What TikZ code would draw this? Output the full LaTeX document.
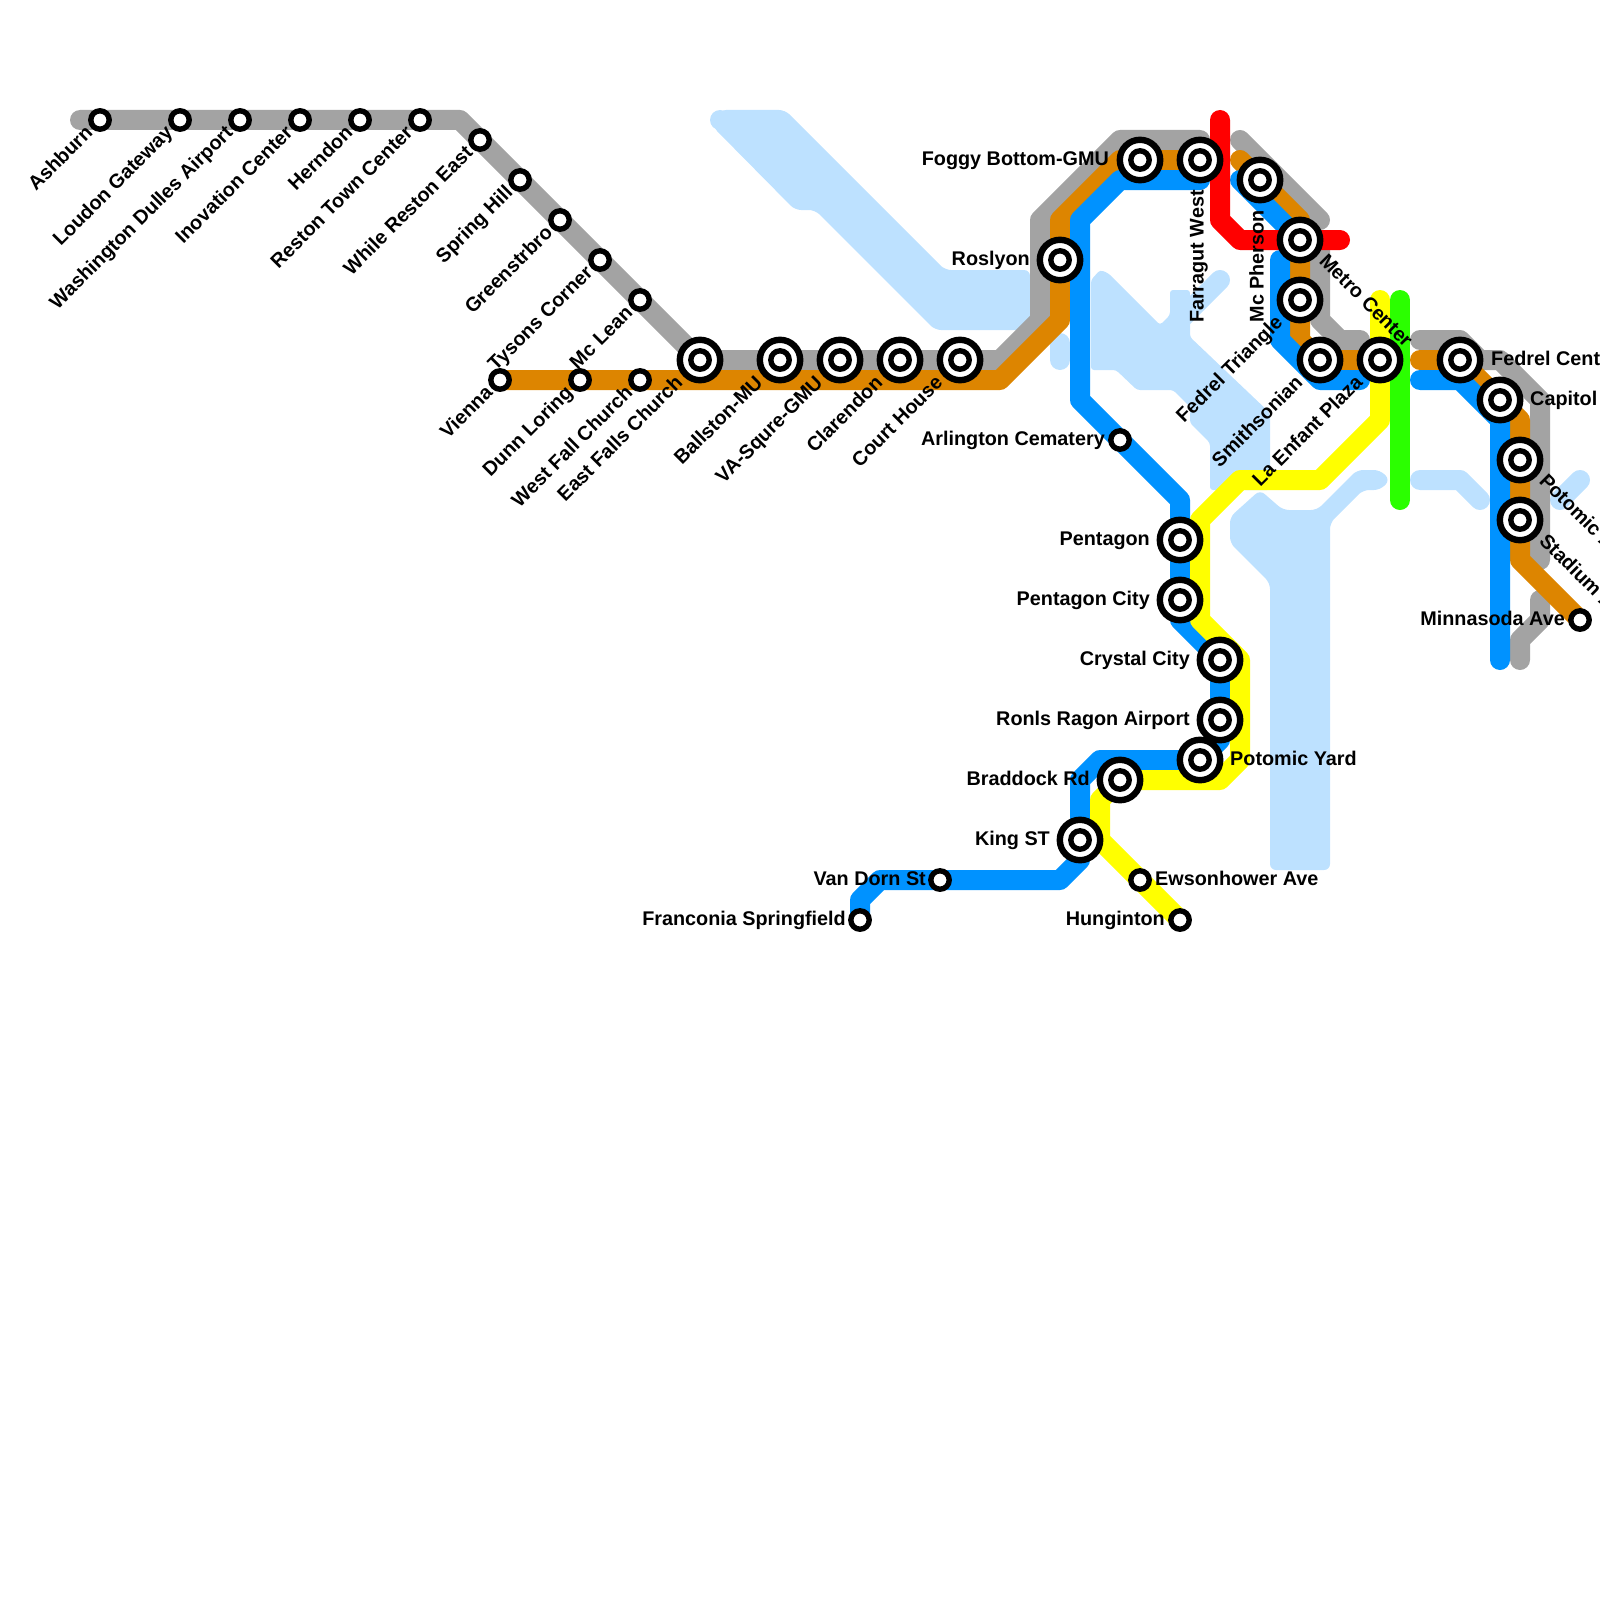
\documentclass[tikz,border=0pt]{standalone}
\usepackage{fontspec}
\setmainfont{Liberation Sans}
\pgfdeclarelayer{bg}
\pgfsetlayers{bg,main}
\definecolor{water}{HTML}{BDE1FF}
\definecolor{mgray}{HTML}{A3A3A3}
\definecolor{morange}{HTML}{DD8500}
\definecolor{mblue}{HTML}{0092FF}
\definecolor{mred}{HTML}{FF0000}
\definecolor{myellow}{HTML}{FFFF00}
\definecolor{mgreen}{HTML}{2BFF00}
\tikzset{
  x=1pt,y=-1pt,
  metro/.style={line width=20pt,line cap=round,line join=round},
  wline/.style={metro,draw=water},
  wfill/.style={fill=water,rounded corners=6pt},
  stn/.style={circle,draw=black,fill=white,line width=5.4pt,minimum size=18.4pt,inner sep=0pt,outer sep=0pt},
  ich/.style={circle,draw=black,fill=white,line width=6.4pt,minimum size=40.4pt,inner sep=0pt,outer sep=0pt},
  lab/.style={font=\fontsize{19.8}{20}\selectfont\bfseries,inner sep=0pt,text=black,text height=14pt,text depth=3pt},
  lw/.style={lab,anchor=east,xshift=1pt,yshift=-2pt},
  le/.style={lab,anchor=west,xshift=-1pt,yshift=-2pt},
  ld/.style={lab,anchor=east,rotate=45},
  lds/.style={lab,anchor=east,xshift=2pt,yshift=2pt,rotate=45},
  lu/.style={lab,anchor=west,yshift=2pt,rotate=-45},
  lv/.style={lab,anchor=east,rotate=90},
}
\begin{document}
\begin{tikzpicture}
\path[use as bounding box] (0,0) rectangle (1600,1600);
\clip (0,0) rectangle (1600,1600);
% stations
\node[stn] (ashburn) at (100,120) {};
\node[stn] (loudon) at (180,120) {};
\node[stn] (dulles) at (240,120) {};
\node[stn] (inov) at (300,120) {};
\node[stn] (herndon) at (360,120) {};
\node[stn] (reston) at (420,120) {};
\node[stn] (while) at (480,140) {};
\node[stn] (spring) at (520,180) {};
\node[stn] (green) at (560,220) {};
\node[stn] (tysons) at (600,260) {};
\node[stn] (mclean) at (640,300) {};
\node[stn] (vienna) at (500,380) {};
\node[stn] (dunn) at (580,380) {};
\node[stn] (westfall) at (640,380) {};
\node[ich] (eastfalls) at (700,360) {};
\node[ich] (ballston) at (780,360) {};
\node[ich] (vasq) at (840,360) {};
\node[ich] (clarendon) at (900,360) {};
\node[ich] (court) at (960,360) {};
\node[ich] (roslyn) at (1060,260) {};
\node[ich] (foggy) at (1140,160) {};
\node[ich] (farragut) at (1200,160) {};
\node[ich] (mcpherson) at (1260,180) {};
\node[ich] (metro) at (1300,240) {};
\node[ich] (triangle) at (1300,300) {};
\node[ich] (smith) at (1320,360) {};
\node[ich] (lenfant) at (1380,360) {};
\node[ich] (fedcent) at (1460,360) {};
\node[ich] (capitol) at (1500,400) {};
\node[ich] (potave) at (1520,460) {};
\node[ich] (stadium) at (1520,520) {};
\node[stn] (minn) at (1580,620) {};
\node[stn] (arl) at (1120,440) {};
\node[ich] (pent) at (1180,540) {};
\node[ich] (pentc) at (1180,600) {};
\node[ich] (crystal) at (1220,660) {};
\node[ich] (ragon) at (1220,720) {};
\node[ich] (potyard) at (1200,760) {};
\node[ich] (braddock) at (1120,780) {};
\node[ich] (king) at (1080,840) {};
\node[stn] (vandorn) at (940,880) {};
\node[stn] (franc) at (860,920) {};
\node[stn] (ewson) at (1140,880) {};
\node[stn] (hung) at (1180,920) {};
\foreach \n in {eastfalls,ballston,vasq,clarendon,court,roslyn,foggy,farragut,mcpherson,metro,triangle,smith,lenfant,fedcent,capitol,potave,stadium,pent,pentc,crystal,ragon,potyard,braddock,king}
  \node[stn] (\n-ring) at (\n) {};
% free ends and bends
\coordinate (g0) at (80,120);
\coordinate (g1) at (460,120);
\coordinate (g2) at (1000,360);
\coordinate (g3) at (1040,320);
\coordinate (g4) at (1040,220);
\coordinate (g5) at (1120,140);
\coordinate (g6) at (1200,140);
\coordinate (g7) at (1240,140);
\coordinate (g8) at (1320,220);
\coordinate (g9) at (1320,250);
\coordinate (g10) at (1320,320);
\coordinate (g11) at (1340,340);
\coordinate (g12) at (1360,340);
\coordinate (g13) at (1420,340);
\coordinate (g14) at (1460,340);
\coordinate (g15) at (1480,360);
\coordinate (g16) at (1500,360);
\coordinate (g17) at (1540,400);
\coordinate (g18) at (1540,560);
\coordinate (g19) at (1540,600);
\coordinate (g20) at (1540,620);
\coordinate (g21) at (1520,640);
\coordinate (g22) at (1520,660);
\coordinate (o1) at (1000,380);
\coordinate (o2) at (1060,320);
\coordinate (o3) at (1060,220);
\coordinate (o4) at (1120,160);
\coordinate (o5) at (1240,160);
\coordinate (o6) at (1300,220);
\coordinate (o7) at (1300,340);
\coordinate (o8) at (1420,360);
\coordinate (o9) at (1520,420);
\coordinate (o10) at (1520,560);
\coordinate (b1) at (1200,180);
\coordinate (b2) at (1120,180);
\coordinate (b3) at (1080,220);
\coordinate (b4) at (1080,400);
\coordinate (b5) at (1180,500);
\coordinate (b6) at (1180,620);
\coordinate (b7) at (1220,740);
\coordinate (b8) at (1100,760);
\coordinate (b9) at (1080,780);
\coordinate (b10) at (1080,860);
\coordinate (b11) at (1060,880);
\coordinate (b12) at (880,880);
\coordinate (b13) at (860,900);
\coordinate (b14) at (1240,180);
\coordinate (b15) at (1280,260);
\coordinate (b16) at (1280,340);
\coordinate (b17) at (1320,380);
\coordinate (b18) at (1360,380);
\coordinate (b19) at (1420,380);
\coordinate (b20) at (1460,380);
\coordinate (b21) at (1500,420);
\coordinate (b22) at (1500,660);
\coordinate (r1) at (1220,120);
\coordinate (r2) at (1220,220);
\coordinate (r3) at (1240,240);
\coordinate (r4) at (1340,240);
\coordinate (y1) at (1380,300);
\coordinate (y2) at (1380,420);
\coordinate (y3) at (1320,480);
\coordinate (y4) at (1240,480);
\coordinate (y5) at (1200,520);
\coordinate (y6) at (1200,620);
\coordinate (y7) at (1240,660);
\coordinate (y8) at (1240,760);
\coordinate (y9) at (1220,780);
\coordinate (y10) at (1100,800);
\coordinate (y11) at (1100,840);
\coordinate (n1) at (1400,300);
\coordinate (n2) at (1400,500);
\begin{pgfonlayer}{bg}
% water
\fill[wfill] (720,110) -- (785,110) -- (945,270) -- (1030,270) -- (1030,330) -- (935,330) -- (815,210) -- (795,210) -- (713,127) -- cycle;
\fill[water] (720,120) circle (10pt);
\draw[wline] (1060,343) -- (1060,360);
\fill[wfill,rounded corners=3pt] (1091,280) -- (1100,270) -- (1108,273) -- (1160,325) -- (1170,315) -- (1170,290) -- (1190,290) -- (1190,337) -- (1270,413) -- (1270,490) -- (1210,490) -- (1210,443) -- (1190,423) -- (1190,407) -- (1173,390) -- (1137,390) -- (1116,370) -- (1091,370) -- cycle;
\draw[wline] (1220,280) -- (1180,320);
\fill[wfill] (1230,517) -- (1260,490) -- (1283,510) -- (1317,510) -- (1357,470) -- (1380,470) -- (1390,480) -- (1380,490) -- (1363,490) -- (1330,523) -- (1330,870) -- (1270,870) -- (1270,583) -- (1230,543) -- cycle;
\draw[wline] (1420,480) -- (1460,480) -- (1480,500);
\draw[wline] (1580,480) -- (1560,500);
% lines
\draw[metro,mgray] (g0) -- (g1) -- (eastfalls.center) -- (g2) -- (g3) -- (g4) -- (g5) -- (g6);
\draw[metro,mgray] (g7) -- (g8);
\draw[metro,mgray] (g9) -- (g10) -- (g11) -- (g12);
\draw[metro,mgray] (g13) -- (g14) -- (g15) -- (g16) -- (g17) -- (g18);
\draw[metro,mgray] (g19) -- (g20) -- (g21) -- (g22);
\draw[metro,morange] (vienna.center) -- (o1) -- (o2) -- (o3) -- (o4) -- (farragut.center);
\draw[metro,morange] (o5) -- (o6) -- (o7) -- (smith.center) -- (lenfant.center);
\draw[metro,morange] (o8) -- (fedcent.center) -- (o9) -- (o10) -- (minn.center);
\draw[metro,mblue] (b1) -- (b2) -- (b3) -- (b4) -- (b5) -- (b6) -- (crystal.center) -- (b7) -- (potyard.center) -- (b8) -- (b9) -- (b10) -- (b11) -- (b12) -- (b13) -- (franc.center);
\draw[metro,mblue] (b14) -- (metro.center);
\draw[metro,mblue] (b15) -- (b16) -- (b17) -- (b18);
\draw[metro,mblue] (b19) -- (b20) -- (b21) -- (b22);
\draw[metro,myellow] (y1) -- (y2) -- (y3) -- (y4) -- (y5) -- (y6) -- (y7) -- (y8) -- (y9) -- (braddock.center) -- (y10) -- (y11) -- (hung.center);
\draw[metro,mred] (r1) -- (r2) -- (r3) -- (r4);
\draw[metro,mgreen] (n1) -- (n2);
\end{pgfonlayer}
% labels
\node[lds] (Lashburn) at (88,132) {Ashburn};
\node[lds] (Lloudon) at (168,132) {Loudon Gateway};
\node[lds] (Ldulles) at (228,132) {Washington Dulles Airport};
\node[lds] (Linov) at (288,132) {Inovation Center};
\node[lds] (Lherndon) at (348,132) {Herndon};
\node[lds] (Lreston) at (408,132) {Reston Town Center};
\node[lds] (Lwhile) at (468,152) {While Reston East};
\node[lds] (Lspring) at (508,192) {Spring Hill};
\node[lds] (Lgreen) at (548,232) {Greenstrbro};
\node[lds] (Ltysons) at (588,272) {Tysons Corner};
\node[lds] (Lmclean) at (628,312) {Mc Lean};
\node[lds] (Lvienna) at (488,392) {Vienna};
\node[lds] (Ldunn) at (568,392) {Dunn Loring};
\node[lds] (Lwestfall) at (628,392) {West Fall Church};
\node[ld] (Leastfalls) at (680,380) {East Falls Church};
\node[ld] (Lballston) at (760,380) {Ballston-MU};
\node[ld] (Lvasq) at (820,380) {VA-Squre-GMU};
\node[ld] (Lclarendon) at (880,380) {Clarendon};
\node[ld] (Lcourt) at (940,380) {Court House};
\node[lw] (Lroslyn) at (1029,258) {Roslyon};
\node[lw] (Lfoggy) at (1108,158) {Foggy Bottom-GMU};
\node[lv] (Lfarragut) at (1198,190) {Farragut West};
\node[lv] (Lmcpherson) at (1258,210) {Mc Pherson};
\node[lu] (Lmetro) at (1322,260) {Metro Center};
\node[ld] (Ltriangle) at (1280,320) {Fedrel Triangle};
\node[ld] (Lsmith) at (1300,380) {Smithsonian};
\node[ld] (Llenfant) at (1360,380) {La Enfant Plaza};
\node[le] (Lfedcent) at (1492,358) {Fedrel Center};
\node[le] (Lcapitol) at (1531,398) {Capitol};
\node[lu] (Lpotave) at (1542,480) {Potomic Ave};
\node[lu] (Lstadium) at (1542,540) {Stadium Armory};
\node[lw] (Lminn) at (1564,618) {Minnasoda Ave};
\node[lw] (Larl) at (1104,438) {Arlington Cematery};
\node[lw] (Lpent) at (1149,538) {Pentagon};
\node[lw] (Lpentc) at (1149,598) {Pentagon City};
\node[lw] (Lcrystal) at (1189,658) {Crystal City};
\node[lw] (Lragon) at (1189,718) {Ronls Ragon Airport};
\node[le] (Lpotyard) at (1231,758) {Potomic Yard};
\node[lw] (Lbraddock) at (1089,778) {Braddock Rd};
\node[lw] (Lking) at (1049,838) {King ST};
\node[lw] (Lvandorn) at (925,878) {Van Dorn St};
\node[lw] (Lfranc) at (845,918) {Franconia Springfield};
\node[le] (Lewson) at (1156,878) {Ewsonhower Ave};
\node[lw] (Lhung) at (1164,918) {Hunginton};
\end{tikzpicture}
\end{document}
